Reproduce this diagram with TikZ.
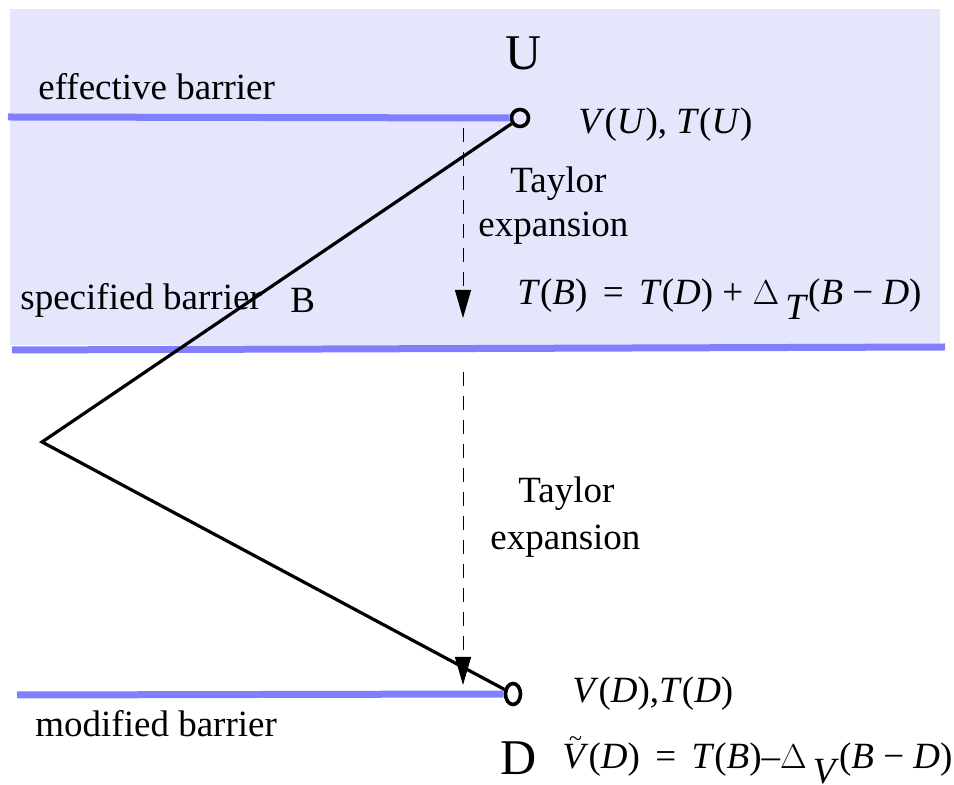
\documentclass[tikz,border=0pt]{standalone}
\usepackage{fontspec}
\setmainfont{Liberation Serif}
\usetikzlibrary{
    arrows.meta,
    positioning,
    shapes.geometric
}
\definecolor{barrierblue}{RGB}{128,128,255}
\definecolor{regionshade}{RGB}{229,229,252}
\newcommand{\mi}[1]{\textit{#1}}
\newcommand{\lowsub}[1]{\raisebox{-0.4em}{\mi{#1}}}
\newcommand{\tildeV}{\makebox[0pt][l]{\hspace{0.18em}\raisebox{0.62em}{\fontsize{12}{12}\selectfont\textasciitilde}}\mi{V}}

\begin{document}
\begin{tikzpicture}[x=0.5pt,y=-0.5pt,
    txt/.style={anchor=base west,inner sep=0pt,font=\fontsize{18.5}{22}\selectfont},
    bigtxt/.style={anchor=base west,inner sep=0pt,font=\fontsize{25}{30}\selectfont},
    barrier/.style={draw=barrierblue,line width=3.5pt},
    pathline/.style={line width=1.6pt},
    expand/.style={dash pattern=on 7pt off 5pt,line width=0.5pt,
        -{Triangle[length=14pt,width=8pt]}}
]
\useasboundingbox (0,0) rectangle (954,785);

% Shaded region
\fill[regionshade] (10,9) rectangle (940,345);

% End points
\node[circle,draw,line width=1.8pt,inner sep=0pt,minimum size=8.5pt] (u) at (520,118) {};
\node[ellipse,draw,line width=1.8pt,inner sep=0pt,minimum width=7.5pt,minimum height=10.5pt] (d) at (513,694) {};
\coordinate (apex) at (42,442);

% Barriers
\coordinate (effL) at (8,117);
\coordinate (specL) at (12,350);
\coordinate (specR) at (945,347);
\coordinate (modL) at (17,695);
\draw[barrier] (effL) -- (u.west);
\draw[barrier] (specL) -- (specR);
\draw[barrier] (modL) -- (d.west);

% Path
\draw[pathline] (u) -- (apex) -- (d);

% Taylor steps
\coordinate (s1) at (463,128);
\coordinate (e1) at (463,318);
\coordinate (s2) at (463,372);
\coordinate (e2) at (463,685);
\draw[expand] (s1) -- (e1);
\draw[expand] (s2) -- (e2);

% Labels
\node[bigtxt] (ulab) at (505,70) {U};
\node[bigtxt] (dlab) at (500,775) {D};
\node[txt] (eff) at (38,100) {effective barrier};
\node[txt] (spec) at (20,310) {specified barrier};
\node[txt] (blab) at (290,313) {B};
\node[txt] (mod) at (35,737) {modified barrier};
\node[txt] (vu) at (578,134) {\mi{V}(\mi{U}), \mi{T}(\mi{U})};
\node[txt] (tay1) at (510,193) {Taylor};
\node[txt] (exp1) at (478,237) {expansion};
\node[txt] (tb) at (517,305) {\mi{T}(\mi{B})\ \,=\ \,\mi{T}(\mi{D}) + $\Delta$\,\lowsub{T}(\mi{B} − \mi{D})};
\node[txt] (tay2) at (518,503) {Taylor};
\node[txt] (exp2) at (490,550) {expansion};
\node[txt] (vd) at (572,703) {\mi{V}(\mi{D}),\mi{T}(\mi{D})};
\node[txt] (vt) at (562,769) {\tildeV(\mi{D})\ \,=\ \,\mi{T}(\mi{B})–$\Delta$\,\lowsub{V}(\mi{B} − \mi{D})};
\end{tikzpicture}
\end{document}
